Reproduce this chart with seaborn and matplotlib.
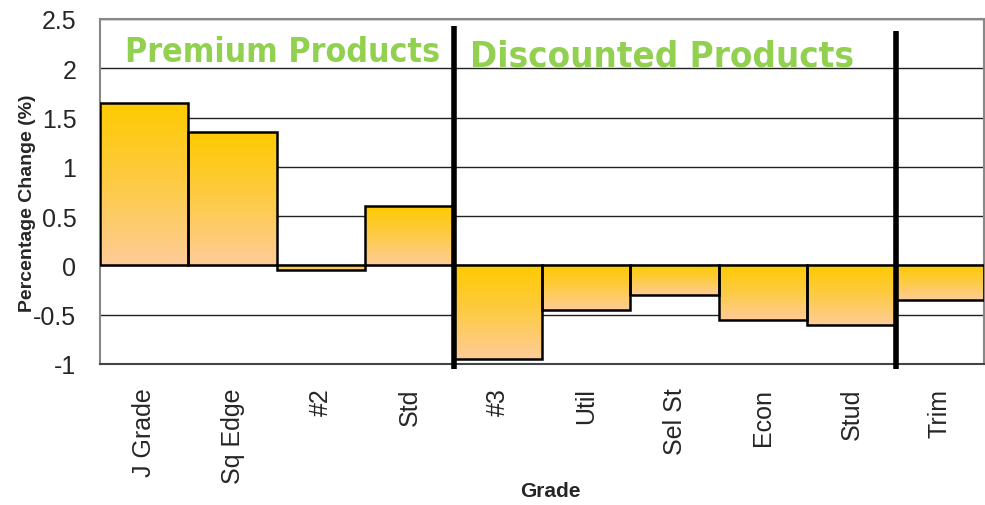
import numpy as np
import pandas as pd
import matplotlib
matplotlib.use("Agg")
import matplotlib.pyplot as plt
import seaborn as sns
from matplotlib import font_manager
from matplotlib.colors import LinearSegmentedColormap

# -----------------------------
# Data
# -----------------------------

grades = ["J Grade", "Sq Edge", "#2", "Std", "#3",
          "Util", "Sel St", "Econ", "Stud", "Trim"]
pct_change = [1.65, 1.35, -0.05, 0.6, -0.95,
              -0.45, -0.3, -0.55, -0.6, -0.35]
group_labels = ["Premium Products", "Discounted Products"]
dividers = [3.5, 8.5]

data = pd.DataFrame({"Grade": grades, "Change": pct_change})

# -----------------------------
# Figure
# -----------------------------

sns.set_style("white")
plt.rcParams["font.family"] = ["Liberation Sans", "DejaVu Sans"]

fig = plt.figure(figsize=(9.85, 5.06), dpi=100)
ax = fig.add_axes([0.1015, 0.2787, 0.8975, 0.6818])

sns.barplot(
    data=data,
    x="Grade",
    y="Change",
    width=1,
    color="#FFCC66",
    edgecolor="black",
    linewidth=1.8,
    ax=ax,
    zorder=3
)

# gradient fill: gold at the top, peach at the bottom
cmap = LinearSegmentedColormap.from_list(
    "gold", ["#FFCA00", "#FDCB45", "#FFCC99"])
grad = np.linspace(0, 1, 256).reshape(-1, 1)
for patch in ax.patches:
    x0, y0 = patch.get_x(), patch.get_y()
    w, h = patch.get_width(), patch.get_height()
    lo, hi = min(y0, y0 + h), max(y0, y0 + h)
    img = ax.imshow(grad, cmap=cmap, aspect="auto",
                    extent=(x0, x0 + w, lo, hi), zorder=2)
    img.set_clip_path(patch)
    patch.set_facecolor("none")

ax.set_xlim(-0.5, len(grades) - 0.5)
ax.set_ylim(-1, 2.5)
ax.set_yticks(np.arange(-1, 2.51, 0.5))
ax.set_yticklabels(["-1", "-0.5", "0", "0.5", "1", "1.5", "2", "2.5"])
ax.yaxis.grid(True, color="#222222", linewidth=1)
ax.set_axisbelow(True)

ax.set_xticks(range(len(grades)))
ax.set_xticklabels(grades, rotation=90, fontsize=18)
ax.set_xticks(np.arange(-0.5, len(grades), 1), minor=True)
ax.tick_params(axis="x", which="major", length=0, pad=17)
ax.tick_params(axis="x", which="minor", length=6, width=1.2,
               color="#555555", direction="out")
ax.tick_params(axis="y", length=6, width=1.2, color="#555555",
               direction="out", labelsize=18, pad=11)

for side in ["left", "top", "right", "bottom"]:
    ax.spines[side].set_visible(True)
    ax.spines[side].set_color("#888888")
    ax.spines[side].set_linewidth(1.5)
ax.spines["bottom"].set_color("#444444")

ax.set_xlabel("Grade", fontsize=15, fontweight="bold")
ax.xaxis.set_label_coords(0.51, -0.34)
ax.set_ylabel("Percentage Change (%)", fontsize=14, fontweight="bold")
ax.yaxis.set_label_coords(-0.072, 0.47)

# group dividers and headings
ax.vlines(dividers[0], -1.05, 2.43, color="black", linewidth=4,
          zorder=5, clip_on=False)
ax.vlines(dividers[1], -1.05, 2.38, color="black", linewidth=4,
          zorder=5, clip_on=False)

# pick a narrow bold face if one is installed
narrow = None
for f in font_manager.fontManager.ttflist:
    if ("Condensed" in f.name or "Narrow" in f.name
            or f.stretch in ("condensed", "semi-condensed")) and f.weight in (700, "bold"):
        narrow = f.fname
        break
head_font = (font_manager.FontProperties(fname=narrow, size=31) if narrow
             else font_manager.FontProperties(family="DejaVu Sans",
                                              weight="bold", size=31))

heads = [
    ax.text(-0.22, 2.07, group_labels[0], color="#92D050",
            fontproperties=head_font, ha="left", va="baseline", zorder=6),
    ax.text(3.69, 2.03, group_labels[1], color="#92D050",
            fontproperties=head_font.copy(), ha="left", va="baseline",
            zorder=6),
]

# shrink headings to the width they take in the original
renderer = fig.canvas.get_renderer()
for txt, target in zip(heads, [315, 383]):
    width = txt.get_window_extent(renderer).width
    txt.set_fontsize(31 * min(1.0, target / width))

fig.savefig("out.png", dpi=100)
